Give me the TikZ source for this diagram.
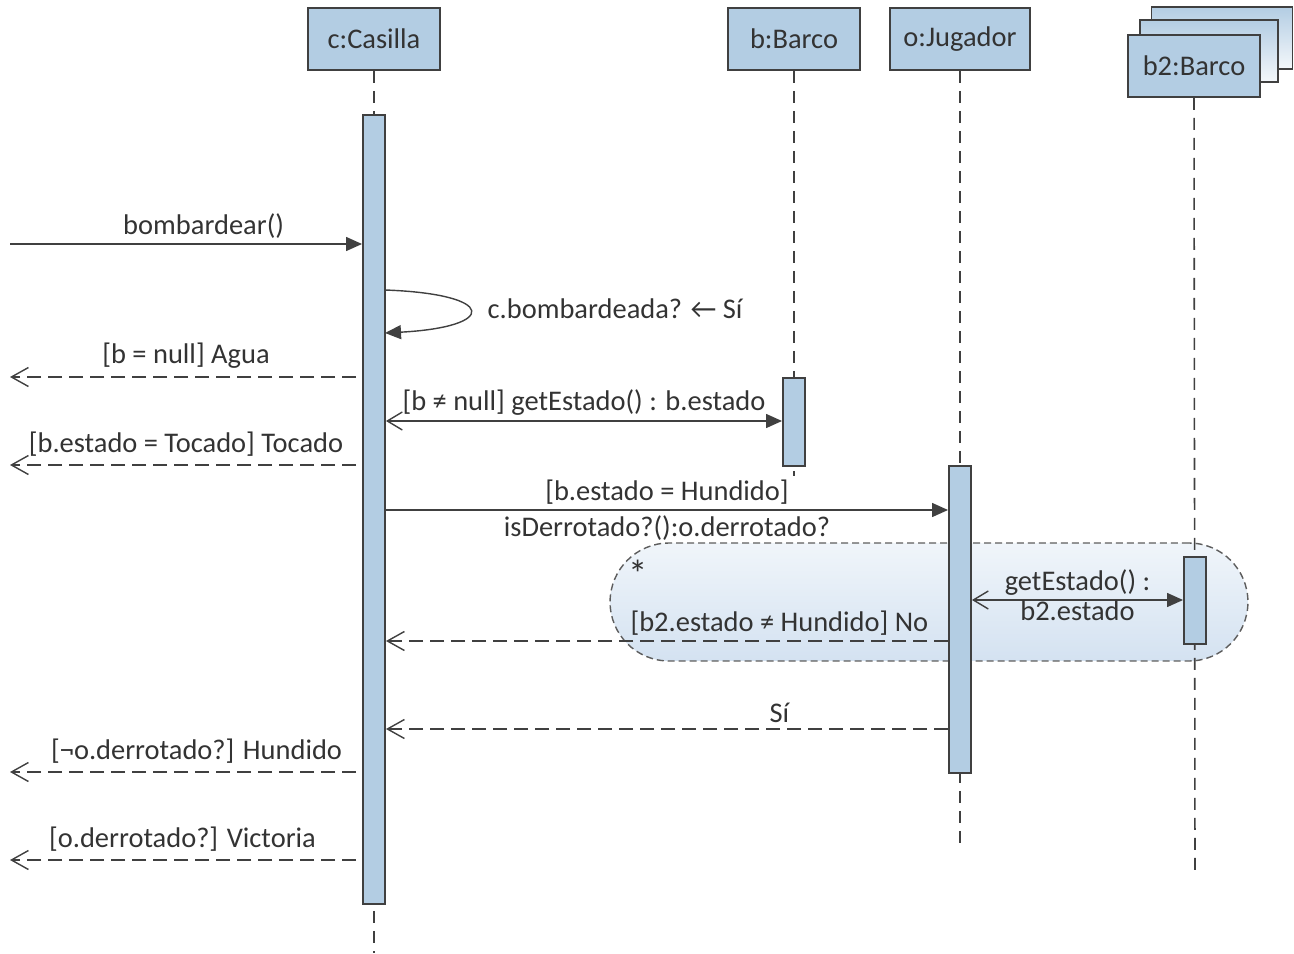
\documentclass[tikz,border=0pt]{standalone}
\usepackage{fontspec}
\setmainfont{Carlito}
\usetikzlibrary{arrows.meta,positioning}

\definecolor{boxblue}{RGB}{179,205,227}
\definecolor{linegray}{RGB}{64,64,64}
\definecolor{textgray}{RGB}{51,51,51}
\definecolor{looptop}{RGB}{240,245,250}
\definecolor{loopbot}{RGB}{212,226,241}

\tikzset{
  obj/.style={rectangle, draw=linegray, line width=1.1pt, fill=boxblue, minimum width=2.64cm, minimum height=1.24cm, text=textgray},
  act/.style={rectangle, draw=linegray, line width=1.1pt, fill=boxblue, minimum width=0.44cm, inner sep=0pt},
  life/.style={draw=linegray, line width=0.9pt, dash pattern=on 0.24cm off 0.16cm},
  call/.style={draw=linegray, line width=0.8pt, -{Triangle[length=0.32cm,width=0.28cm]}},
  sync/.style={draw=linegray, line width=0.8pt, {Straight Barb[length=0.3cm,width=0.36cm]}-{Triangle[length=0.32cm,width=0.28cm]}},
  ret/.style={draw=linegray, line width=0.8pt, dash pattern=on 0.28cm off 0.14cm, -{Straight Barb[length=0.34cm,width=0.38cm]}},
  outret/.style={ret, shorten <=0.12cm},
  lbl/.style={text=textgray, inner sep=3pt},
  outlbl/.style={lbl, inner sep=4.5pt},
  loopbox/.style={rectangle, draw=linegray!85, line width=0.8pt, dash pattern=on 0.14cm off 0.08cm, top color=looptop, bottom color=loopbot, rounded corners=1.18cm},
}

\begin{document}
\begin{tikzpicture}[x=0.02cm, y=-0.02cm, font=\fontsize{16.2}{19}\selectfont]
  \useasboundingbox (0,0) rectangle (1294,953);

  % loop fragment
  \node[loopbox, minimum width=12.76cm, minimum height=2.36cm] (loop) at (929,602) {};
  \node[lbl, font=\fontsize{22}{24}\selectfont, inner sep=0pt] (star) at (638,574) {*};

  % participants
  \node[obj] (casilla) at (374,39) {c:Casilla};
  \node[obj] (barco) at (794,39) {b:Barco};
  \node[obj, minimum width=2.8cm] (jugador) at (960,39) {o:Jugador};
  \node[obj, minimum width=2.82cm, top color=boxblue, bottom color=boxblue!15] (barcos3) at (1222,38) {};
  \node[obj, minimum width=2.76cm, top color=boxblue, bottom color=boxblue!15] (barcos2) at (1209,51) {};
  \node[obj] (barcos) at (1194,66) {b2:Barco};

  % lifelines
  \coordinate (casillaEnd) at (374,953);
  \coordinate (barcoEnd) at (794,476);
  \coordinate (jugadorEnd) at (960,848);
  \coordinate (barcosEnd) at (1195,874);
  \draw[life] (casilla.south) -- (casillaEnd);
  \draw[life] (barco.south) -- (barcoEnd);
  \draw[life] (jugador.south) -- (jugadorEnd);
  \draw[life] (barcos.south) -- (barcosEnd);

  % activations
  \node[act, minimum height=15.78cm] (actC) at (374,509.5) {};
  \node[act, minimum height=1.76cm] (actB) at (794,422) {};
  \node[act, minimum height=6.14cm] (actO) at (960,619.5) {};
  \node[act, minimum height=1.74cm] (actB2) at (1195,600.5) {};

  % gates on the left border
  \coordinate (gIn) at (10,244);
  \coordinate (gAgua) at (10,377);
  \coordinate (gTocado) at (10,465);
  \coordinate (gHundido) at (10,772);
  \coordinate (gVictoria) at (10,860);

  % message rows
  \coordinate (rSelfA) at (385,290);
  \coordinate (rSelfB) at (385,333);
  \coordinate (rB) at (0,421);
  \coordinate (rO) at (0,510);
  \coordinate (rB2) at (0,600);
  \coordinate (rNo) at (0,641);
  \coordinate (rSi) at (0,729);

  \draw[call] (gIn) -- (gIn -| actC.west) node[lbl, pos=0.55, above] {bombardear()};

  \draw[call] (rSelfA) .. controls (498,294) and (498,327) .. (rSelfB);
  \node[lbl, anchor=west] (selfLbl) at (482,309) {c.bombardeada? ← Sí};

  \draw[outret] (gAgua -| actC.west) -- (gAgua) node[outlbl, midway, above] {[b = null] Agua};

  \draw[sync] (rB -| actC.east) -- (rB -| actB.west) node[lbl, midway, above] {[b ≠ null] getEstado() : b.estado};

  \draw[outret] (gTocado -| actC.west) -- (gTocado) node[outlbl, midway, above] {[b.estado = Tocado] Tocado};

  \draw[call] (rO -| actC.east) -- (rO -| actO.west)
    node[lbl, midway, above] {[b.estado = Hundido]}
    node[lbl, midway, below] {isDerrotado?():o.derrotado?};

  \draw[sync] (rB2 -| actO.east) -- (rB2 -| actB2.west)
    node[lbl, inner sep=2pt, midway, above] {getEstado() :}
    node[lbl, inner sep=0pt, midway, below] {b2.estado};

  \draw[ret] (rNo -| actO.west) -- (rNo -| actC.east) node[lbl, pos=0.3, above] {[b2.estado ≠ Hundido] No};

  \draw[ret] (rSi -| actO.west) -- (rSi -| actC.east) node[lbl, pos=0.3, above] {Sí};

  \draw[outret] (gHundido -| actC.west) -- (gHundido) node[outlbl, pos=0.47, above] {[¬o.derrotado?] Hundido};

  \draw[outret] (gVictoria -| actC.west) -- (gVictoria) node[outlbl, pos=0.51, above] {[o.derrotado?] Victoria};
\end{tikzpicture}
\end{document}
